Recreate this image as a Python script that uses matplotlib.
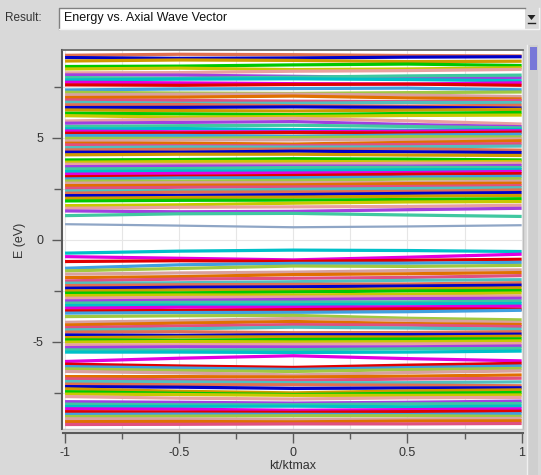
import matplotlib
matplotlib.use("Agg")
import matplotlib.pyplot as plt
from matplotlib.patches import Rectangle, Polygon
from matplotlib.lines import Line2D
from matplotlib.ticker import MultipleLocator, FormatStrFormatter

plt.rcParams['font.family'] = ['Liberation Sans', 'DejaVu Sans']
plt.rcParams['axes.unicode_minus'] = False

# k points where each band energy was sampled
k_pts = [-1.0, -0.5, 0.0, 0.5, 1.0]

# conduction bands (eV) at k = -1, -0.5, 0, 0.5, 1
cb_k0 = [9.05, 8.94, 8.77, 8.50, 8.38, 8.19, 8.09, 7.96, 7.84, 7.73,
         7.60, 7.35, 7.24, 7.11, 6.98, 6.86, 6.75, 6.62, 6.49, 6.37,
         6.21, 6.09, 5.83, 5.72, 5.56, 5.44, 5.34, 5.23, 5.11, 4.98,
         4.85, 4.74, 4.66, 4.52, 4.41, 4.30, 4.17, 3.92, 3.81, 3.71,
         3.59, 3.48, 3.35, 3.22, 3.10, 2.99, 2.89, 2.78, 2.66, 2.53,
         2.40, 2.29, 2.17, 2.04, 1.91, 1.68, 1.55, 1.42, 1.19, 0.77]
cb_k1 = [9.10, 8.90, 8.82, 8.52, 8.42, 8.20, 8.08, 7.92, 7.88, 7.70,
         7.58, 7.40, 7.20, 7.14, 7.00, 6.84, 6.70, 6.64, 6.50, 6.34,
         6.18, 6.02, 5.92, 5.76, 5.60, 5.46, 5.30, 5.24, 5.12, 4.98,
         4.90, 4.74, 4.62, 4.56, 4.44, 4.30, 4.20, 3.94, 3.84, 3.70,
         3.62, 3.50, 3.38, 3.26, 3.12, 3.04, 2.88, 2.80, 2.68, 2.58,
         2.42, 2.34, 2.18, 2.08, 1.94, 1.72, 1.60, 1.38, 1.28, 0.70]
cb_k2 = [9.08, 8.92, 8.80, 8.58, 8.35, 8.27, 8.02, 7.98, 7.90, 7.66,
         7.62, 7.42, 7.18, 7.15, 7.05, 6.80, 6.70, 6.58, 6.52, 6.32,
         6.14, 6.05, 5.96, 5.80, 5.62, 5.41, 5.30, 5.26, 5.08, 5.02,
         4.90, 4.70, 4.62, 4.55, 4.45, 4.35, 4.20, 3.98, 3.85, 3.72,
         3.62, 3.55, 3.40, 3.28, 3.16, 3.05, 2.92, 2.80, 2.70, 2.60,
         2.48, 2.35, 2.22, 2.10, 1.95, 1.80, 1.62, 1.40, 1.30, 0.62]
cb_k3 = [9.04, 8.96, 8.74, 8.62, 8.38, 8.30, 7.96, 8.04, 7.86, 7.64,
         7.64, 7.44, 7.22, 7.10, 6.96, 6.78, 6.74, 6.56, 6.50, 6.36,
         6.20, 6.10, 5.84, 5.66, 5.56, 5.38, 5.33, 5.24, 5.14, 5.06,
         4.92, 4.78, 4.68, 4.56, 4.46, 4.32, 4.16, 3.96, 3.82, 3.76,
         3.62, 3.56, 3.44, 3.30, 3.22, 3.08, 2.98, 2.82, 2.76, 2.62,
         2.52, 2.38, 2.28, 2.14, 1.98, 1.86, 1.64, 1.48, 1.22, 0.66]
cb_k4 = [9.02, 8.98, 8.76, 8.55, 8.44, 8.36, 7.95, 8.08, 7.80, 7.70,
         7.58, 7.36, 7.25, 7.03, 6.91, 6.84, 6.73, 6.60, 6.46, 6.40,
         6.25, 6.12, 5.68, 5.55, 5.49, 5.42, 5.35, 5.28, 5.18, 5.05,
         4.95, 4.86, 4.72, 4.60, 4.40, 4.28, 4.14, 3.92, 3.85, 3.76,
         3.65, 3.55, 3.45, 3.36, 3.25, 3.12, 3.00, 2.88, 2.78, 2.66,
         2.56, 2.45, 2.32, 2.18, 2.02, 1.88, 1.70, 1.55, 1.15, 0.72]

# valence bands (eV) at k = -1, -0.5, 0, 0.5, 1
vb_k0 = [-0.65, -0.82, -1.06, -1.39, -1.52, -1.68, -1.85, -2.01, -2.12, -2.24,
         -2.37, -2.50, -2.61, -2.73, -2.86, -2.99, -3.10, -3.22, -3.35, -3.48,
         -3.59, -3.76, -4.04, -4.17, -4.30, -4.41, -4.52, -4.66, -4.79, -4.90,
         -5.01, -5.15, -5.28, -5.39, -5.50, -5.96, -6.09, -6.21, -6.32, -6.45,
         -6.70, -6.81, -6.94, -7.07, -7.19, -7.30, -7.44, -7.56, -7.68, -7.93,
         -8.05, -8.17, -8.28, -8.42, -8.55, -8.66, -8.77, -8.91, -9.05]
vb_k1 = [-0.55, -0.90, -1.02, -1.22, -1.40, -1.62, -1.80, -1.92, -2.10, -2.20,
         -2.32, -2.46, -2.60, -2.70, -2.82, -2.96, -3.06, -3.20, -3.30, -3.46,
         -3.56, -3.72, -3.96, -4.08, -4.22, -4.36, -4.50, -4.68, -4.76, -4.92,
         -4.98, -5.14, -5.24, -5.40, -5.50, -5.80, -6.18, -6.28, -6.40, -6.52,
         -6.70, -6.86, -6.96, -7.10, -7.22, -7.42, -7.52, -7.58, -7.76, -7.96,
         -8.08, -8.16, -8.30, -8.44, -8.54, -8.64, -8.78, -8.90, -9.04]
vb_k2 = [-0.50, -0.98, -1.05, -1.15, -1.28, -1.58, -1.70, -1.88, -2.05, -2.18,
         -2.30, -2.45, -2.55, -2.70, -2.80, -2.92, -3.05, -3.18, -3.30, -3.42,
         -3.55, -3.70, -3.85, -4.00, -4.15, -4.28, -4.55, -4.65, -4.75, -4.88,
         -5.00, -5.12, -5.25, -5.38, -5.52, -5.68, -6.25, -6.35, -6.45, -6.62,
         -6.72, -6.88, -7.00, -7.10, -7.28, -7.50, -7.58, -7.62, -7.80, -8.00,
         -8.08, -8.15, -8.35, -8.45, -8.55, -8.62, -8.80, -8.92, -9.02]
vb_k3 = [-0.52, -0.85, -1.00, -1.14, -1.30, -1.50, -1.66, -1.84, -1.98, -2.16,
         -2.26, -2.40, -2.50, -2.66, -2.78, -2.88, -3.04, -3.14, -3.28, -3.38,
         -3.52, -3.84, -3.94, -4.10, -4.18, -4.32, -4.54, -4.64, -4.76, -4.86,
         -4.99, -5.10, -5.24, -5.34, -5.50, -5.82, -6.14, -6.26, -6.36, -6.50,
         -6.68, -6.82, -7.00, -7.12, -7.26, -7.40, -7.52, -7.62, -7.74, -7.96,
         -8.04, -8.18, -8.32, -8.42, -8.56, -8.62, -8.78, -8.88, -9.02]
vb_k4 = [-0.57, -0.70, -0.95, -1.10, -1.25, -1.47, -1.60, -1.75, -1.95, -2.10,
         -2.22, -2.35, -2.48, -2.60, -2.75, -2.86, -3.00, -3.12, -3.25, -3.40,
         -3.45, -3.92, -4.05, -4.15, -4.25, -4.38, -4.50, -4.62, -4.72, -4.85,
         -4.95, -5.08, -5.20, -5.32, -5.45, -5.93, -6.05, -6.18, -6.30, -6.42,
         -6.62, -6.78, -6.96, -7.15, -7.25, -7.35, -7.48, -7.60, -7.72, -7.90,
         -8.02, -8.15, -8.28, -8.40, -8.52, -8.65, -8.75, -8.87, -9.00]

band_colors = ['#e07050', '#0000c8', '#d09a00', '#00c800', '#c8c800', '#e8a0a0',
               '#a040e0', '#40c8a0', '#00c0c8', '#e000e0', '#e00000', '#40a0e0',
               '#a0c840', '#d8a0a0', '#e07000', '#e05080', '#50c0c0']

W, H = 541, 475


def fx(px):
    return px / W


def fy(py):
    return 1 - py / H


fig = plt.figure(figsize=(W / 100, H / 100), dpi=100)
fig.patch.set_facecolor('#d9d9d9')

# result selector bar
fig.text(fx(5), fy(18), 'Result:', fontsize=8.5, color='#333333', va='center')
fig.patches.append(Rectangle((fx(59), fy(29)), (525 - 59) / W, 21 / H,
                             transform=fig.transFigure, facecolor='white',
                             edgecolor='none'))
fig.lines.append(Line2D([fx(59), fx(59), fx(525)], [fy(29), fy(8), fy(8)],
                        transform=fig.transFigure, color='#808080', lw=1))
fig.lines.append(Line2D([fx(59), fx(539), fx(539)], [fy(29), fy(29), fy(8)],
                        transform=fig.transFigure, color='#f4f4f4', lw=1))
fig.text(fx(64), fy(18.5), 'Energy vs. Axial Wave Vector', fontsize=9,
         color='#111111', va='center')
fig.patches.append(Polygon([(fx(527.5), fy(15)), (fx(535.5), fy(15)), (fx(531.5), fy(20))],
                           closed=True, transform=fig.transFigure,
                           facecolor='#222222', edgecolor='none'))
fig.lines.append(Line2D([fx(528), fx(535)], [fy(22.5), fy(22.5)],
                        transform=fig.transFigure, color='#222222', lw=1))

# scroll strip on the right
fig.patches.append(Rectangle((fx(527), 0), 11 / W, fy(45), transform=fig.transFigure,
                             facecolor='#cfcfcf', edgecolor='none'))
fig.lines.append(Line2D([fx(527), fx(527)], [0, fy(45)], transform=fig.transFigure,
                        color='#f0f0f0', lw=1))
fig.patches.append(Rectangle((fx(530), fy(70)), 7 / W, 23 / H, transform=fig.transFigure,
                             facecolor='#7878d8', edgecolor='none'))

ax = fig.add_axes([fx(63), fy(429), (523 - 63) / W, (429 - 50) / H])
ax.set_facecolor('white')

cb_bands = list(zip(cb_k0, cb_k1, cb_k2, cb_k3, cb_k4))
vb_bands = list(zip(vb_k0, vb_k1, vb_k2, vb_k3, vb_k4))
n_col = len(band_colors)
for i, e in enumerate(cb_bands):
    c = band_colors[i % n_col]
    lw = 2.3
    if i == len(cb_bands) - 1:
        c, lw = '#8fa6c6', 1.6
    ax.plot(k_pts, e, color=c, lw=lw, solid_capstyle='butt', zorder=2)
for i, e in enumerate(vb_bands):
    ax.plot(k_pts, e, color=band_colors[(i + 8) % n_col],
            lw=2.3, solid_capstyle='butt', zorder=2)

ax.set_xlim(-1.009, 1.006)
ax.set_ylim(-9.27, 9.31)

ax.xaxis.set_major_locator(MultipleLocator(0.5))
ax.xaxis.set_minor_locator(MultipleLocator(0.25))
ax.yaxis.set_major_locator(MultipleLocator(5))
ax.yaxis.set_minor_locator(MultipleLocator(2.5))
ax.xaxis.set_major_formatter(FormatStrFormatter('%g'))
ax.yaxis.set_major_formatter(FormatStrFormatter('%g'))

ax.grid(True, which='both', color='#e6e6e6', lw=0.8, zorder=0)
ax.set_axisbelow(True)

ax.spines['left'].set_position(('outward', 1))
ax.spines['bottom'].set_position(('outward', 3))
for side in ['left', 'bottom']:
    ax.spines[side].set_color('#5a5a5a')
    ax.spines[side].set_linewidth(1.5)
ax.spines['top'].set_color('#6a6a6a')
ax.spines['top'].set_linewidth(1.3)
ax.spines['right'].set_color('#bdbdbd')
ax.spines['right'].set_linewidth(1.0)
ax.plot([0, 1], [0, 0], transform=ax.transAxes, color='#c4c4c4', lw=1,
        clip_on=False, zorder=5)

ax.tick_params(axis='both', which='both', direction='out', color='#5a5a5a',
               width=1, labelsize=9, labelcolor='#333333')
ax.tick_params(axis='x', which='major', length=7, pad=3)
ax.tick_params(axis='x', which='minor', length=4)
ax.tick_params(axis='y', which='major', length=7, pad=6)
ax.tick_params(axis='y', which='minor', length=6)

fig.text(fx(293), fy(466), 'kt/ktmax', fontsize=9, color='#333333',
         ha='center', va='center')
fig.text(fx(20), fy(240), 'E (eV)', fontsize=9, color='#333333', rotation=90,
         ha='center', va='center')

fig.savefig('out.png', dpi=100, facecolor=fig.get_facecolor())
